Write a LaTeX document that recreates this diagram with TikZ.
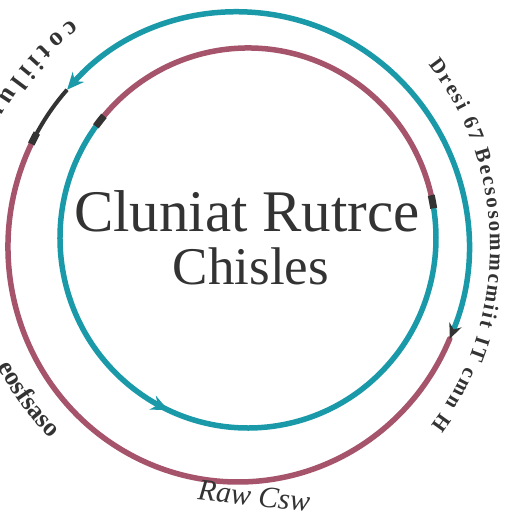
\documentclass[tikz,border=0pt]{standalone}
\usepackage{fontspec}
\setmainfont{Liberation Serif}
\usetikzlibrary{arrows.meta,decorations.markings,decorations.text}
\definecolor{tealc}{HTML}{1A9AA9}
\definecolor{mauve}{HTML}{A5546B}
\definecolor{ink}{HTML}{333333}
\begin{document}
\begin{tikzpicture}[x=1pt,y=1pt,
  loopline/.style={line width=5.5pt, line cap=round},
  junction/.style={line width=7pt, ink},
  curvedtext/.style={decorate, decoration={text along path, text color=ink}}]
\useasboundingbox (0,0) rectangle (512,512);
\fill[white] (0,0) rectangle (512,512);
\coordinate (cA) at (238,265);
\coordinate (cB) at (248,274);

% outer loop
\draw[loopline, mauve] (cA) ++(153:230 and 235) arc[start angle=153, end angle=337, x radius=230, y radius=235];
\draw[loopline, tealc, {Stealth[length=15pt,width=13pt,color=ink]}-{Stealth[length=17pt,width=15pt]}]
  (cA) ++(-23:230 and 235) arc[start angle=-23, end angle=138, x radius=230, y radius=235];
\draw[line width=4pt, ink] (cA) ++(138:230 and 235) arc[start angle=138, end angle=153, x radius=230, y radius=235];
\draw[junction] (cA) ++(151:230 and 235) arc[start angle=151, end angle=154, x radius=230, y radius=235];

% inner loop
\draw[loopline, mauve] (cB) ++(11:188 and 190) arc[start angle=11, end angle=142, x radius=188, y radius=190];
\draw[loopline, tealc, postaction={decorate},
  decoration={markings, mark=at position 0.45 with {\arrow{Stealth[length=17pt,width=15pt]}}}]
  (cB) ++(142:188 and 190) arc[start angle=142, end angle=371, x radius=188, y radius=190];
\draw[junction] (cB) ++(9:188 and 190) arc[start angle=9, end angle=13, x radius=188, y radius=190];
\draw[junction] (cB) ++(140:188 and 190) arc[start angle=140, end angle=144, x radius=188, y radius=190];

% central title
\node[anchor=base, text=ink, font=\fontsize{59}{60}\selectfont] (t1) at (247,280) {Cluniat Rutrce};
\node[anchor=base, text=ink, font=\fontsize{53}{54}\selectfont] (t2) at (251,227) {Chisles};

% curved labels
\path[curvedtext, decoration={text align={fit to path}, text={|\fontsize{21}{21}\selectfont\bfseries|Dresi 67 Becsosommcmiit IT cmn H}}]
  (cA) ++(41:252 and 278) arc[start angle=41, end angle=-40, x radius=252, y radius=278];
\path[curvedtext, decoration={text align=center, text={|\fontsize{26}{26}\selectfont\bfseries|c o t i i l u r}}]
  (cA) ++(120:282) arc[start angle=120, end angle=158, radius=282];
\path[curvedtext, decoration={text align=center, text={|\fontsize{26}{26}\selectfont\bfseries|eosfsaso}}]
  (cA) ++(198:268) arc[start angle=198, end angle=234, radius=268];

\node[text=ink, rotate=-6, font=\fontsize{30}{30}\selectfont\itshape] (bt) at (254,16) {Raw Csw};
\end{tikzpicture}
\end{document}
